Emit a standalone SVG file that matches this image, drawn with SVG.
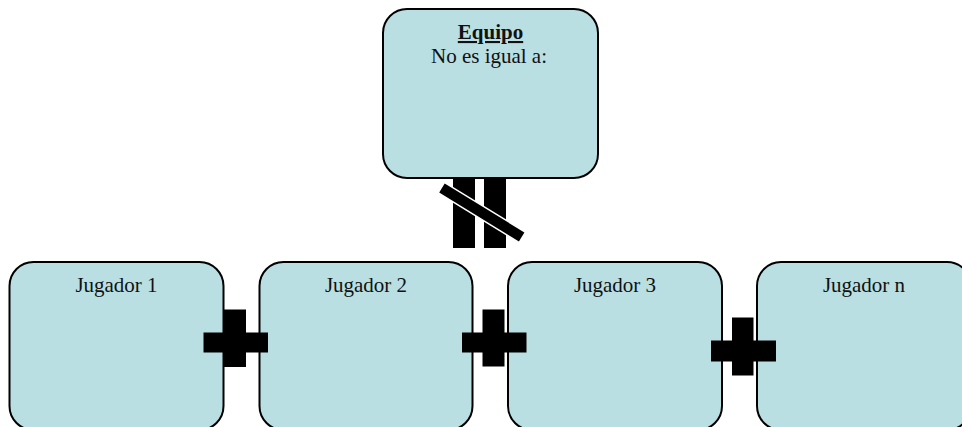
<svg xmlns="http://www.w3.org/2000/svg" width="962" height="427" viewBox="0 0 962 427">
<style>
.box{fill:#B9DFE3;stroke:#000;stroke-width:2}
.lbl{font-family:"Liberation Serif","Times New Roman",serif;font-size:21px;fill:#111;text-anchor:middle}
.bar{fill:#000}
</style>
<rect width="962" height="427" fill="#fff"/>
<g id="connectors">
<rect class="bar" x="453" y="178" width="22" height="70"/>
<rect class="bar" x="484" y="178" width="22" height="70"/>
<rect x="434.3" y="206.5" width="95" height="12" fill="#000" stroke="#fff" stroke-width="1.5" transform="rotate(31.5 481.8 212.5)"/>
</g>
<g id="equipo">
<rect class="box" x="383" y="9" width="215" height="169" rx="24" ry="24"/>
<text class="lbl" x="490.5" y="39" font-weight="bold" text-decoration="underline">Equipo</text>
<text class="lbl" x="489" y="63">No es igual a:</text>
</g>
<g id="jugador1">
<rect class="box" x="9.5" y="262" width="214" height="168" rx="24" ry="24"/>
<text class="lbl" x="116.5" y="292">Jugador 1</text>
</g>
<g id="jugador2">
<rect class="box" x="259.5" y="262" width="213" height="168" rx="24" ry="24"/>
<text class="lbl" x="366" y="292">Jugador 2</text>
</g>
<g id="jugador3">
<rect class="box" x="508" y="262" width="214" height="168" rx="24" ry="24"/>
<text class="lbl" x="615" y="292">Jugador 3</text>
</g>
<g id="jugadorn">
<rect class="box" x="757" y="262" width="214" height="168" rx="24" ry="24"/>
<text class="lbl" x="864" y="292">Jugador n</text>
</g>
<g id="plus-signs">
<path class="bar" d="M224 309.5h22v23h22v20h-22v14.5h-22v-14.5h-20.5v-20h20.5z"/>
<path class="bar" d="M482.5 309.5h22v23h22v20h-22v14h-22v-14h-20.5v-20h20.5z"/>
<path class="bar" d="M732 317.5h21.5v23h22.5v21h-22.5v14h-21.5v-14h-21v-21h21z"/>
</g>
</svg>
